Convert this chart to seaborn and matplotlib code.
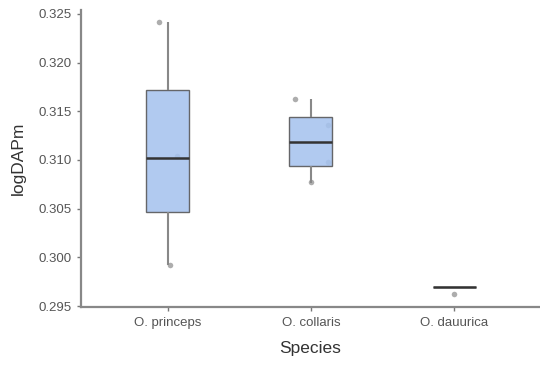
import numpy as np
import pandas as pd
import seaborn as sns
import matplotlib.pyplot as plt

# observed logDAPm values per species
species = ["O. princeps", "O. collaris", "O. dauurica"]
princeps = [0.2992, 0.3102, 0.3242]
collaris = [0.3076, 0.3099, 0.3138, 0.3163]
dauurica = [0.2970]
# plotted (jittered) heights of the raw points
princeps_pts = [0.2992, 0.3104, 0.3242]
collaris_pts = [0.3077, 0.3098, 0.3136, 0.3163]
dauurica_pts = [0.2962]
yticks = [0.295, 0.300, 0.305, 0.310, 0.315, 0.320, 0.325]


def plot():
    sns.set_style(style="white")
    plt.rcParams['font.family'] = ['Liberation Sans', 'DejaVu Sans']

    df = pd.DataFrame({
        'Species': [species[0]] * len(princeps) + [species[1]] * len(collaris) + [species[2]] * len(dauurica),
        'logDAPm': princeps + collaris + dauurica,
    })
    pts = pd.DataFrame({
        'Species': [species[0]] * len(princeps_pts) + [species[1]] * len(collaris_pts) + [species[2]] * len(dauurica_pts),
        'logDAPm': princeps_pts + collaris_pts + dauurica_pts,
    })

    fig, ax = plt.subplots(figsize=(5.4, 3.67), dpi=100)
    fig.subplots_adjust(left=0.15, right=1.0, bottom=0.1635, top=0.973)

    # points first, so the boxes sit over them like in the original
    np.random.seed(3)
    sns.stripplot(data=pts, x='Species', y='logDAPm', order=species, jitter=0.15,
                  color='#999999', size=4, alpha=0.8, linewidth=0, ax=ax, zorder=1)
    sns.boxplot(data=df, x='Species', y='logDAPm', order=species, width=0.3, whis=10,
                color='#a6c3ef', saturation=1, showfliers=False, ax=ax,
                boxprops=dict(edgecolor='#555555', linewidth=1.0, alpha=0.88, zorder=2),
                whiskerprops=dict(color='#888888', linewidth=1.5),
                capprops=dict(linewidth=0),
                medianprops=dict(color='#333333', linewidth=1.8))

    ax.set_xlim(-0.605, 2.6)
    ax.set_ylim(0.2949, 0.3254)
    ax.set_yticks(yticks)
    ax.set_yticklabels([f"{v:.3f}" for v in yticks])
    ax.set_xlabel('Species', fontsize=12.5, color='#333333', labelpad=9)
    ax.set_ylabel('logDAPm', fontsize=12.5, color='#333333', labelpad=9)
    ax.tick_params(axis='both', labelsize=9.5, labelcolor='#555555', color='#777777',
                   length=3, width=1, direction='out', left=True, bottom=True, pad=4)

    for s in ['top', 'right']:
        ax.spines[s].set_visible(False)
    for s in ['left', 'bottom']:
        ax.spines[s].set_color('#888888')
        ax.spines[s].set_linewidth(1.6)

    fig.savefig('out.png', dpi=100)


plot()
